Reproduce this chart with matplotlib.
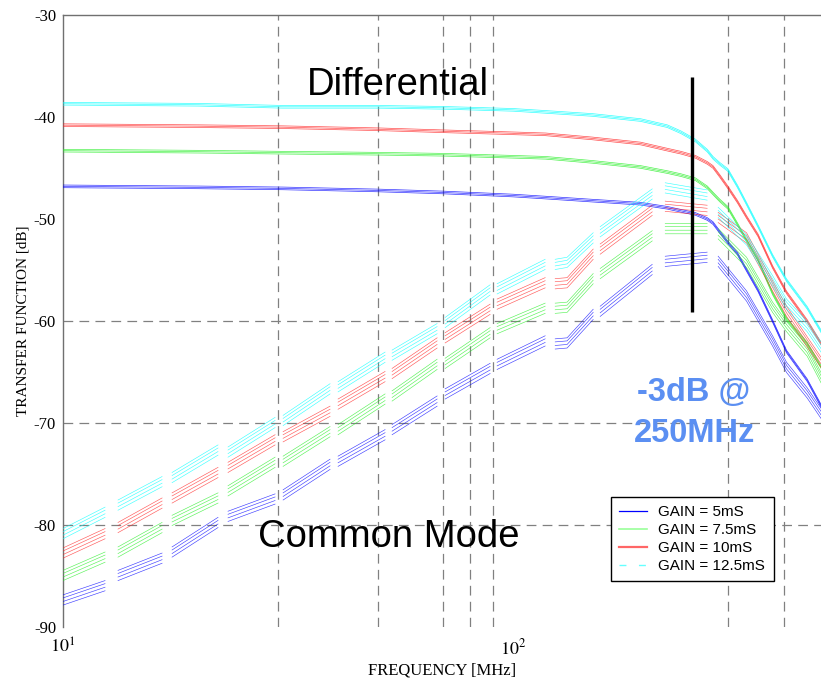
import numpy as np
import matplotlib
matplotlib.use("Agg")
import matplotlib.pyplot as plt
from matplotlib.lines import Line2D

plt.rcParams["axes.unicode_minus"] = False
plt.rcParams["mathtext.fontset"] = "stix"
plt.rcParams["lines.scale_dashes"] = False

nan = np.nan

# ---- Differential transfer function (dB) ----
diff_freq = [10, 20, 30.8, 50, 70, 100, 118, 150, 192, 220, 236, 254, 270, 278,
             288, 300, 315, 330, 350, 377, 405, 450, 483]
diff_5mS = [-46.8, -46.9, -47.0, -47.2, -47.4, -47.7, -47.9, -48.2, -48.5, -48.9,
            -49.2, -49.5, -50.0, -50.4, -51.3, -52.3, -53.4, -55.0, -57.0, -60.0,
            -63.0, -65.8, -68.3]
diff_7_5mS = [-43.3, -43.4, -43.5, -43.6, -43.7, -43.9, -44.0, -44.4, -44.9, -45.4,
              -45.7, -46.1, -46.9, -47.5, -48.2, -48.9, -50.5, -52.1, -54.0, -57.3,
              -59.8, -62.2, -64.5]
diff_10mS = [-40.8, -40.9, -41.0, -41.2, -41.4, -41.6, -41.7, -42.1, -42.6, -43.2,
             -43.5, -43.9, -44.5, -44.9, -45.8, -46.9, -48.3, -49.8, -51.6, -54.7,
             -57.2, -60.0, -62.2]
diff_12_5mS = [-38.7, -38.8, -39.0, -39.0, -39.1, -39.3, -39.5, -39.8, -40.3, -40.9,
               -41.5, -42.3, -43.3, -44.0, -44.6, -45.2, -46.8, -48.5, -50.7, -53.6,
               -56.0, -58.7, -61.0]

# ---- Common-mode transfer function (dB), measured in sweep segments ----
cm_freq = [10, 12.4, nan, 13.25, 16.6, nan, 17.47, 22.1, nan, 23.26, 29.59, nan,
           30.83, 39.2, nan, 40.84, 51.94, nan, 53.84, 67.78, nan, 70.62, 88.9, nan,
           92.13, 117.8, nan, 124.0, 131.8, 150.6, nan, 156.1, 203.7, nan,
           217.7, 269.8, nan, 285.4, 330, 377, 405, 450, 483]
cm_5mS = [-87.3, -85.9, nan, -84.9, -83.2, nan, -82.6, -79.7, nan, -79.1, -77.4, nan,
          -77.0, -74.0, nan, -73.7, -71.1, nan, -70.6, -67.8, nan, -67.1, -64.6, nan,
          -64.2, -61.9, nan, -62.2, -62.1, -59.3, nan, -59.0, -54.9, nan,
          -54.1, -53.7, nan, -54.1, -57.5, -61.9, -64.5, -67.0, -69.0]
cm_7_5mS = [-84.9, -83.1, nan, -82.6, -80.2, nan, -79.5, -77.3, nan, -76.6, -73.8, nan,
            -73.7, -70.8, nan, -70.6, -67.6, nan, -67.3, -64.2, nan, -64.1, -61.1, nan,
            -60.7, -58.7, nan, -58.7, -58.6, -55.8, nan, -55.3, -51.6, nan,
            -50.9, -50.9, nan, -51.4, -54.2, -58.6, -60.5, -62.9, -65.5]
cm_10mS = [-82.7, -80.8, nan, -80.2, -77.8, nan, -77.3, -74.8, nan, -74.3, -71.6, nan,
           -71.3, -68.8, nan, -68.1, -65.4, nan, -65.1, -62.1, nan, -61.6, -58.8, nan,
           -58.3, -56.2, nan, -56.3, -56.2, -53.4, nan, -52.9, -49.1, nan,
           -48.7, -49.1, nan, -49.8, -51.8, -56.5, -59.0, -62.0, -64.0]
cm_12_5mS = [-80.8, -78.7, nan, -78.0, -75.7, nan, -75.3, -72.6, nan, -72.8, -69.9, nan,
             -69.7, -66.6, nan, -66.4, -63.5, nan, -63.3, -60.7, nan, -60.1, -56.9, nan,
             -56.8, -54.4, nan, -54.4, -54.2, -51.8, nan, -51.2, -47.5, nan,
             -46.9, -47.6, nan, -49.3, -52.0, -56.0, -58.3, -60.5, -62.5]

# spread of the repeated measurement traces around each curve (dB)
diff_trace_spread = [-0.13, 0.0, 0.13]
cm_trace_spread = [-0.55, -0.2, 0.15, 0.45]

gain_labels = ["GAIN = 5mS", "GAIN = 7.5mS", "GAIN = 10mS", "GAIN = 12.5mS"]
colors = ["#0000ff", "#22ee22", "#ff2222", "#00ffff"]

y_ticks = [-90, -80, -70, -60, -50, -40, -30]
x_ticks = [10, 100]
x_tick_labels = ["$10^{1}$", "$10^{2}$"]
grid_freqs = [30, 50, 70, 80, 90, 300, 400]
grid_levels = [-80, -70, -60]

bandwidth_freq = 250
bandwidth_span = (-36.1, -59.1)

serif = ["Liberation Serif", "DejaVu Serif"]
sans = ["Liberation Sans", "DejaVu Sans"]

fig = plt.figure(figsize=(8.21, 6.79), dpi=100)
ax = fig.add_axes([63 / 821, 1 - 627 / 679, 1 - 63 / 821, (627 - 15) / 679])
ax.set_xscale("log")
ax.set_xlim(10, 483)
ax.set_ylim(-90, -30)

grid_kw = dict(color="#808080", lw=0.9, linestyle=(0, (7, 4.5)), zorder=1)
for f in grid_freqs:
    ax.axvline(f, **grid_kw)
for lv in grid_levels:
    ax.axhline(lv, **grid_kw)

diff_sets = [diff_5mS, diff_7_5mS, diff_10mS, diff_12_5mS]
cm_sets = [cm_5mS, cm_7_5mS, cm_10mS, cm_12_5mS]
dfreq = np.array(diff_freq)
cfreq = np.array(cm_freq)
for color, d, c in zip(colors, diff_sets, cm_sets):
    d = np.array(d)
    c = np.array(c)
    for off in diff_trace_spread:
        ax.plot(dfreq, d + off, color=color, lw=0.5, alpha=0.8, zorder=3)
    for off in cm_trace_spread:
        ax.plot(cfreq, c + off, color=color, lw=0.45, alpha=0.75, zorder=3)

ax.plot([bandwidth_freq, bandwidth_freq], bandwidth_span, color="black", lw=2.4,
        solid_capstyle="butt", zorder=4)

ax.set_yticks(y_ticks)
ax.set_yticklabels([str(v) for v in y_ticks], fontfamily=serif, fontsize=12)
ax.set_xticks(x_ticks)
ax.set_xticklabels(x_tick_labels, fontsize=13)
ax.xaxis.set_minor_locator(matplotlib.ticker.NullLocator())
ax.tick_params(axis="y", length=0, pad=5)
ax.tick_params(axis="x", length=0, pad=8)

for side in ("bottom", "right"):
    ax.spines[side].set_visible(False)
for side in ("top", "left"):
    ax.spines[side].set_color("#707070")
    ax.spines[side].set_linewidth(1.0)

ax.set_xlabel("FREQUENCY [MHz]", fontfamily=serif, fontsize=12, labelpad=3)
ax.set_ylabel("TRANSFER FUNCTION [dB]", fontfamily=serif, fontsize=11, labelpad=3)

ax.text(398 / 821, 1 - 85 / 679, "Differential", transform=fig.transFigure,
        fontfamily=sans, fontsize=27.5, ha="center", va="center")
ax.text(389 / 821, 1 - 537 / 679, "Common Mode", transform=fig.transFigure,
        fontfamily=sans, fontsize=27.5, ha="center", va="center")
ax.text(694 / 821, 1 - 413 / 679, "-3dB @\n250MHz", transform=fig.transFigure,
        fontfamily=sans, fontsize=23.5, fontweight="bold", color="#5b8ff2",
        ha="center", va="center", linespacing=1.38)

handles = [
    Line2D([], [], color=colors[0], lw=0.9),
    Line2D([], [], color="#99ff99", lw=1.2),
    Line2D([], [], color="#ff6666", lw=1.6),
    Line2D([], [], color="#66ffff", lw=1.0, linestyle=(0, (5, 9))),
]
leg = fig.legend(handles, gain_labels, loc="upper left",
                 bbox_to_anchor=(611 / 821, 1 - 497 / 679),
                 prop={"family": sans, "size": 11}, frameon=True, fancybox=False,
                 edgecolor="black", framealpha=1, handlelength=1.8,
                 handletextpad=0.75, labelspacing=0.25, borderpad=0.55,
                 borderaxespad=0)
leg.get_frame().set_linewidth(1.0)

fig.savefig("out.png", dpi=100)
